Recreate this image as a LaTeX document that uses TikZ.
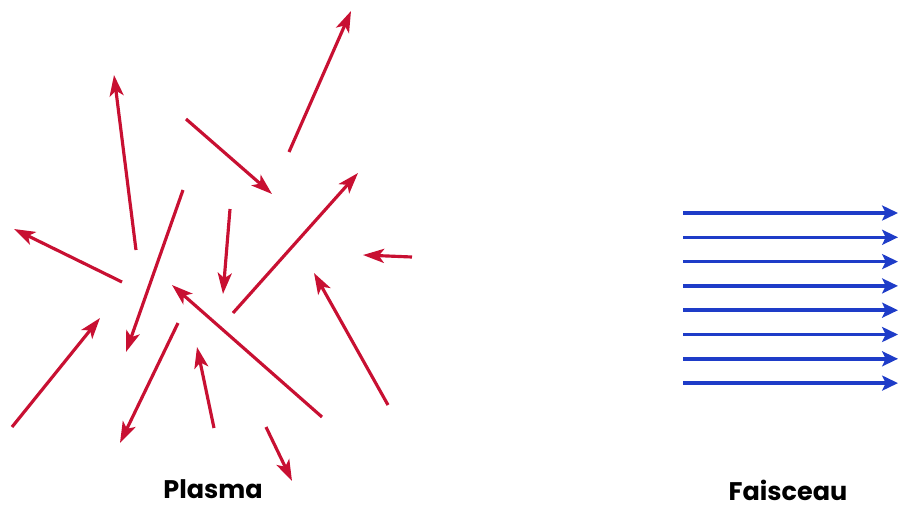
\documentclass[tikz,border=0pt]{standalone}
\usepackage{fontspec}
\setmainfont{Poppins}
\usetikzlibrary{arrows.meta}
\definecolor{plasmared}{RGB}{200,16,50}
\definecolor{beamblue}{RGB}{30,60,200}

\begin{document}
\begin{tikzpicture}[
        x=0.02cm, y=-0.02cm,
        % styles des fleches
        particle/.style={draw=plasmared, line width=1.8pt, -{Stealth[length=12pt, width=8pt, inset=3pt]}},
        ray/.style={draw=beamblue, line width=2pt, -{Stealth[length=9pt, width=8.5pt, inset=2pt]}},
        caption/.style={font=\bfseries\fontsize{14.5}{17}\selectfont, text=black, inner sep=0pt, anchor=base}
    ]
    \useasboundingbox (0,0) rectangle (899,508);

    % --- Plasma : particules dans toutes les directions ---
    \foreach \xa/\ya/\xb/\yb in {
        289/152/351/11,
        136/250/114/75,
        186/119/272/194,
        233/313/358/173,
        122/282/14/229,
        183/190/126/352,
        230/209/223/294,
        412/257/363/255,
        322/417/172/285,
        388/405/314/273,
        12/427/100/318,
        178/323/120/443,
        214/428/197/347,
        266/427/292/481}
        \draw[particle] (\xa,\ya) -- (\xb,\yb);

    \node[caption] (plasma) at (213,498) {Plasma};

    % --- Faisceau : rayons paralleles ---
    \foreach \i in {0,...,7}
        \draw[ray] (683,{213+24.3*\i}) -- (898,{213+24.3*\i});

    \node[caption] (faisceau) at (788,500) {Faisceau};

\end{tikzpicture}
\end{document}
